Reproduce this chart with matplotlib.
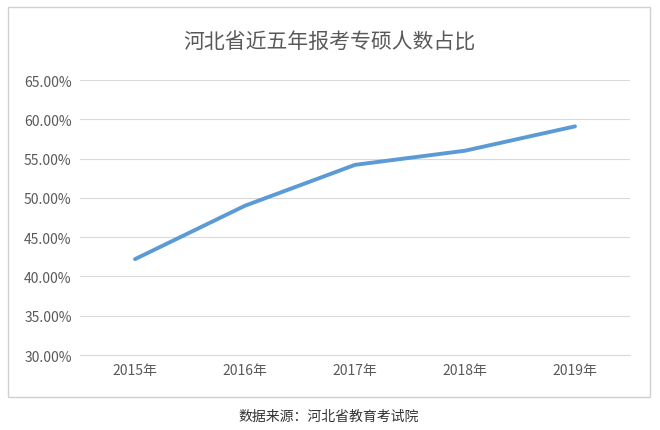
import matplotlib
matplotlib.use("Agg")
import matplotlib.pyplot as plt
from matplotlib.patches import Rectangle

plt.rcParams['font.family'] = ['Noto Sans CJK SC', 'DejaVu Sans']

years = ["2015年", "2016年", "2017年", "2018年", "2019年"]
values = [42.2, 49.0, 54.2, 56.0, 59.1]
yticks = [30, 35, 40, 45, 50, 55, 60, 65]

fig = plt.figure(figsize=(6.6, 4.31), dpi=100)
W, H = 660, 431
fig.patches.append(Rectangle((8/W, 1-398/H), 642/W, 390/H, transform=fig.transFigure,
                             fill=False, edgecolor='#d0d0d0', linewidth=1))
ax = fig.add_axes([80/W, 1-356/H, 550/W, 275/H])
ax.plot(range(len(years)), values, color='#5b9bd5', linewidth=2.8, solid_capstyle='round')
ax.set_xlim(-0.5, len(years)-0.5)
ax.set_ylim(30, 65)
ax.set_yticks(yticks)
ax.set_yticklabels([f"{v:.2f}%" for v in yticks], fontsize=10, color='#595959')
ax.set_xticks(range(len(years)))
ax.set_xticklabels(years, fontsize=10, color='#595959')
ax.grid(axis='y', color='#d9d9d9', linewidth=0.8)
ax.set_axisbelow(True)
for s in ['top', 'right', 'left']:
    ax.spines[s].set_visible(False)
ax.spines['bottom'].set_color('#d9d9d9')
ax.tick_params(length=0, pad=6)
fig.text(329/W, 1-43/H, "河北省近五年报考专硕人数占比", ha='center', va='center', fontsize=15, color='#595959')
fig.text(329/W, 1-417/H, "数据来源：河北省教育考试院", ha='center', va='center', fontsize=10, color='#333333')
fig.savefig("out.png", dpi=100)
